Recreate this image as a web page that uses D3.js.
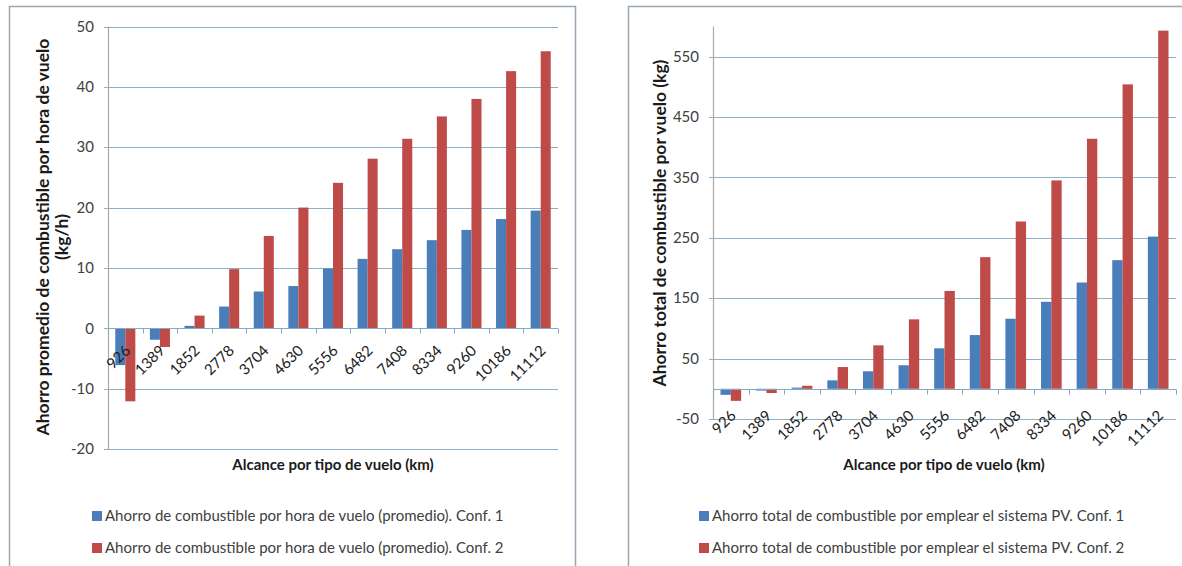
<!DOCTYPE html>
<html>
<head>
<meta charset="utf-8">
<script src="https://cdn.jsdelivr.net/npm/d3@7"></script>
<style>
  body { margin: 0; background: #fff; }
  svg { display: block; font-family: Lato, "Open Sans", sans-serif; }
</style>
</head>
<body>
<svg id="chart" width="1182" height="566"></svg>
<script>
// data
var categories = ["926", "1389", "1852", "2778", "3704", "4630", "5556", "6482", "7408", "8334", "9260", "10186", "11112"];
var hourConf1 = [-6.1, -1.9, 0.4, 3.6, 6.1, 7.0, 9.9, 11.5, 13.1, 14.6, 16.3, 18.1, 19.5];
var hourConf2 = [-12.1, -3.1, 2.1, 9.8, 15.3, 20.0, 24.1, 28.1, 31.4, 35.1, 38.0, 42.6, 45.9];
var totalConf1 = [-10, -3, 2, 14, 29, 39, 67, 89, 116, 144, 176, 213, 252];
var totalConf2 = [-20, -7, 5, 36, 72, 115, 162, 218, 277, 345, 414, 504, 593];
var hourTicks = [-20, -10, 0, 10, 20, 30, 40, 50];
var totalTicks = [-50, 50, 150, 250, 350, 450, 550];

var blue = "#4a7ebb", red = "#be4b48";
var svg = d3.select("#chart");

function drawChart(opt) {
    var g = svg.append("g");

    // frame
    g.append("rect")
        .attr("x", opt.frame[0] + 0.5).attr("y", opt.frame[1] + 0.5)
        .attr("width", opt.frame[2]).attr("height", opt.frame[3])
        .attr("fill", "none").attr("stroke", "#9aa6b0").attr("stroke-width", 1.5);

    var y = d3.scaleLinear().domain(opt.domain).range([opt.bottom, opt.top]);
    var x = d3.scaleBand().domain(categories).range([opt.left, opt.right])
        .paddingInner(0.42).paddingOuter(0.21);
    var xs = d3.scaleBand().domain([0, 1]).range([0, x.bandwidth()]);

    // gridlines
    g.append("g")
        .selectAll("line")
        .data(opt.ticks)
        .join("line")
        .attr("x1", opt.left - 4).attr("x2", opt.right)
        .attr("y1", d => Math.round(y(d)) + 0.5).attr("y2", d => Math.round(y(d)) + 0.5)
        .attr("stroke", "#8db0c6").attr("stroke-width", 1.2);

    // y axis line
    g.append("line")
        .attr("x1", opt.left + 0.5).attr("x2", opt.left + 0.5)
        .attr("y1", opt.top).attr("y2", opt.bottom)
        .attr("stroke", "#a9a9a9").attr("stroke-width", 1.2);

    // y tick labels
    g.append("g")
        .selectAll("text")
        .data(opt.ticks)
        .join("text")
        .attr("x", opt.left - 14)
        .attr("y", d => y(d))
        .attr("dy", "0.35em")
        .attr("text-anchor", "end")
        .attr("font-size", 15)
        .attr("fill", "#404040")
        .text(d => d);

    // bars
    var series = [opt.s1, opt.s2];
    series.forEach(function(vals, si) {
        g.append("g")
            .attr("fill", si == 0 ? blue : red)
            .selectAll("rect")
            .data(vals)
            .join("rect")
            .attr("x", (d, i) => x(categories[i]) + xs(si))
            .attr("width", xs.bandwidth())
            .attr("y", d => y(Math.max(0, d)))
            .attr("height", d => Math.abs(y(d) - y(0)));
    });

    // x axis at zero with ticks between categories
    var y0 = Math.round(y(0)) + 0.5;
    g.append("line")
        .attr("x1", opt.left).attr("x2", opt.right)
        .attr("y1", y0).attr("y2", y0)
        .attr("stroke", "#86aac2").attr("stroke-width", 1.2);
    g.append("g")
        .selectAll("line")
        .data(d3.range(categories.length + 1))
        .join("line")
        .attr("x1", i => Math.round(opt.left + i * (opt.right - opt.left) / categories.length) + 0.5)
        .attr("x2", i => Math.round(opt.left + i * (opt.right - opt.left) / categories.length) + 0.5)
        .attr("y1", y0).attr("y2", y0 + 5)
        .attr("stroke", "#86aac2");

    // category labels, rotated
    g.append("g")
        .selectAll("text")
        .data(categories)
        .join("text")
        .attr("transform", d => `translate(${x(d) + x.bandwidth() / 2 + opt.labDx},${y0 + opt.labDy}) rotate(-45)`)
        .attr("text-anchor", "end")
        .attr("font-size", 15)
        .attr("fill", "#202020")
        .text(d => d);

    // y axis title, font sized to the length seen in the picture
    var yt = g.append("text")
        .attr("transform", `translate(${opt.yTitleX},${opt.yTitleY}) rotate(-90)`)
        .attr("text-anchor", "middle")
        .attr("font-size", 15)
        .attr("font-weight", "bold")
        .attr("fill", "#1a1a1a");
    var spans = opt.yTitle.map(function(line) {
        return yt.append("tspan").attr("x", 0).text(line);
    });
    var fs = 15 * opt.yTitleLen / spans[0].node().getComputedTextLength();
    yt.attr("font-size", fs);
    spans.forEach(function(s, i) { s.attr("dy", i == 0 ? 0 : fs * 1.1); });

    g.append("text")
        .attr("x", opt.xTitleX).attr("y", 470)
        .attr("text-anchor", "middle")
        .attr("font-size", 15)
        .attr("font-weight", "bold")
        .attr("fill", "#1a1a1a")
        .text("Alcance por tipo de vuelo (km)");

    // legend
    var leg = g.append("g")
        .selectAll("g")
        .data(opt.legend)
        .join("g")
        .attr("transform", (d, i) => `translate(${opt.legX},${516 + i * 32})`);
    leg.append("rect")
        .attr("x", 0).attr("y", -5).attr("width", 10).attr("height", 10)
        .attr("fill", (d, i) => i == 0 ? blue : red);
    leg.append("text")
        .attr("x", 13).attr("dy", "0.35em")
        .attr("font-size", 15)
        .attr("fill", "#404040")
        .text(d => d);
}

drawChart({
    frame: [9, 6, 566, 600],
    left: 108, right: 558, top: 26.5, bottom: 449,
    domain: [-20, 50], ticks: hourTicks,
    s1: hourConf1, s2: hourConf2,
    labDx: 6, labDy: 23,
    yTitle: ["Ahorro promedio de combustible por hora de vuelo", "(kg/h)"],
    yTitleLen: 397,
    yTitleX: 49, yTitleY: 237,
    xTitleX: 333, legX: 92,
    legend: ["Ahorro de combustible por hora de vuelo (promedio). Conf. 1",
             "Ahorro de combustible por hora de vuelo (promedio). Conf. 2"]
});

drawChart({
    frame: [628, 6, 600, 600],
    left: 713, right: 1176, top: 26.4, bottom: 419,
    domain: [-50, 600], ticks: totalTicks,
    s1: totalConf1, s2: totalConf2,
    labDx: 6, labDy: 27,
    yTitle: ["Ahorro total de combustible por vuelo (kg)"],
    yTitleLen: 327,
    yTitleX: 666, yTitleY: 223,
    xTitleX: 944, legX: 699,
    legend: ["Ahorro total de combustible por emplear el sistema PV. Conf. 1",
             "Ahorro total de combustible por emplear el sistema PV. Conf. 2"]
});
</script>
</body>
</html>
